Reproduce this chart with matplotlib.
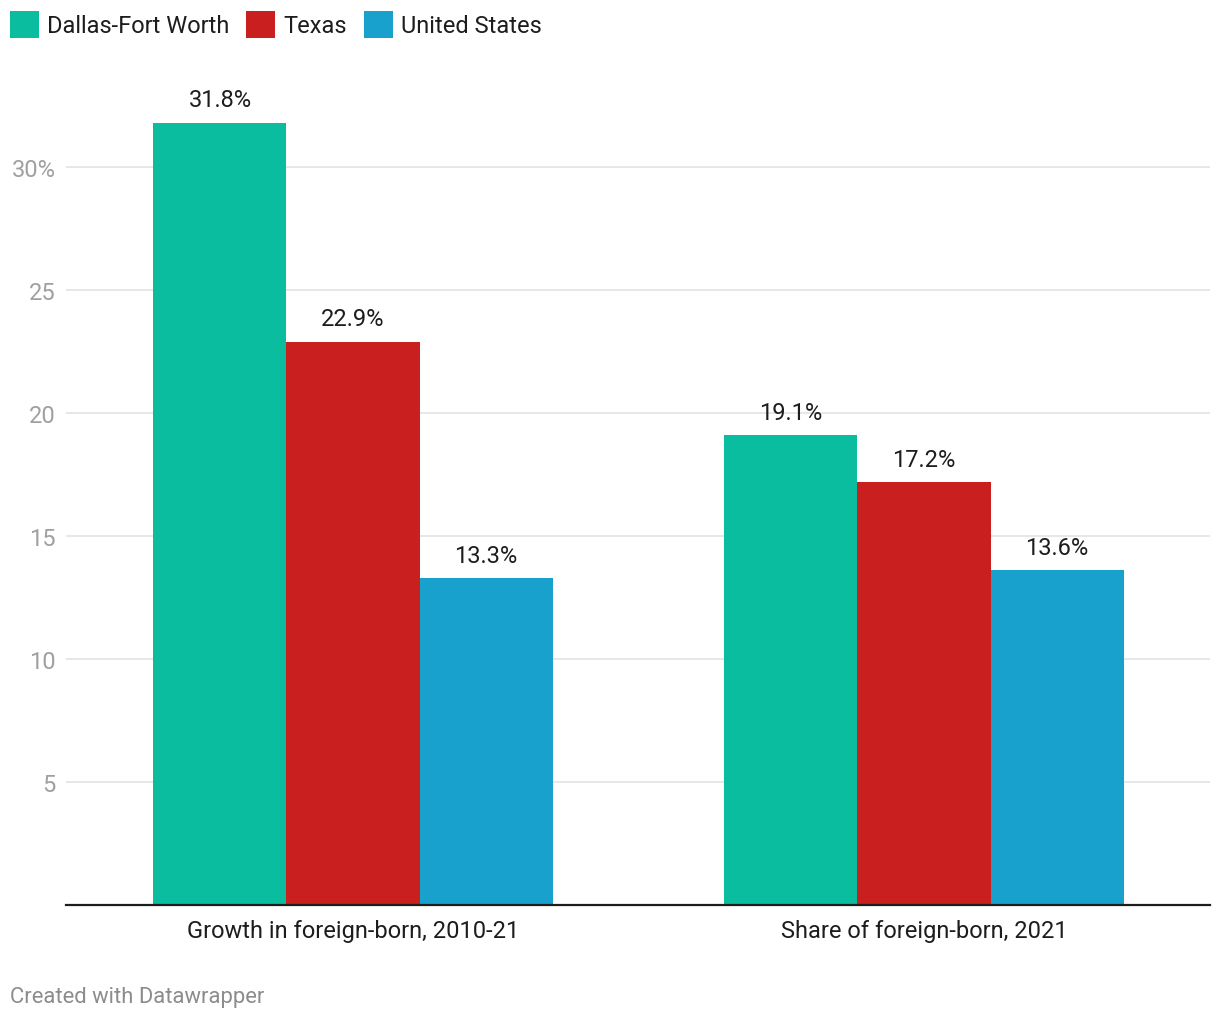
import matplotlib
matplotlib.use("Agg")
import matplotlib.pyplot as plt
import numpy as np
from matplotlib.patches import Patch

categories = ["Growth in foreign-born, 2010-21", "Share of foreign-born, 2021"]
series_names = ["Dallas-Fort Worth", "Texas", "United States"]
dfw = [31.8, 19.1]
texas = [22.9, 17.2]
us = [13.3, 13.6]
series_values = [dfw, texas, us]
colors = ["#0bbd9f", "#c91f1f", "#19a1cd"]
yticks = [5, 10, 15, 20, 25, 30]
ytick_labels = ["5", "10", "15", "20", "25", "30%"]

plt.rcParams['font.family'] = ['Roboto', 'DejaVu Sans']

FS = 17
W, H = 1220, 1020
fig = plt.figure(figsize=(W / 100, H / 100), dpi=100)
ax_left, ax_right = 66, 1210
ax_bottom, ax_top = 906, 94
ax = fig.add_axes([ax_left / W, 1 - ax_bottom / H, (ax_right - ax_left) / W, (ax_bottom - ax_top) / H])

x = np.arange(len(categories))
bw = 0.233
for i, (name, vals, c) in enumerate(zip(series_names, series_values, colors)):
    pos = x + (i - 1) * bw
    bars = ax.bar(pos, vals, width=bw, color=c, zorder=3, linewidth=0)
    for b, v in zip(bars, vals):
        ax.annotate(f"{v:.1f}%", (b.get_x() + b.get_width() / 2, v), xytext=(0, 8),
                    textcoords="offset points", ha="center", va="bottom",
                    fontsize=FS, color="#1d1d1d")

ax.set_xlim(-0.5026, 1.5009)
ax.set_ylim(0, 33)
ax.set_yticks(yticks)
ax.set_yticklabels(ytick_labels, fontsize=FS, color="#a0a0a0")
ax.set_xticks(x)
ax.set_xticklabels(categories, fontsize=FS, color="#1d1d1d")
ax.tick_params(axis='y', length=0, pad=7.5)
ax.tick_params(axis='x', length=0, pad=10)
for t in yticks:
    ax.axhline(t, color="#e3e3e3", linewidth=1.2, zorder=1)
for s in ["top", "right", "left"]:
    ax.spines[s].set_visible(False)
ax.spines["bottom"].set_color("#1d1d1d")
ax.spines["bottom"].set_linewidth(1.6)
ax.spines["bottom"].set_zorder(4)

handles = [Patch(facecolor=c, edgecolor='none') for c in colors]
fig.legend(handles, series_names, loc="upper left", bbox_to_anchor=(10 / W, 1 - 12 / H),
           ncol=3, frameon=False, fontsize=FS, borderaxespad=0, borderpad=0,
           handlelength=1.22, handleheight=1.4, handletextpad=0.35, columnspacing=0.72,
           labelcolor="#1d1d1d")

fig.text(10 / W, 1 - 998 / H, "Created with Datawrapper", fontsize=15.8, color="#8c8c8c",
         ha="left", va="center")

fig.savefig("out.png", dpi=100)
